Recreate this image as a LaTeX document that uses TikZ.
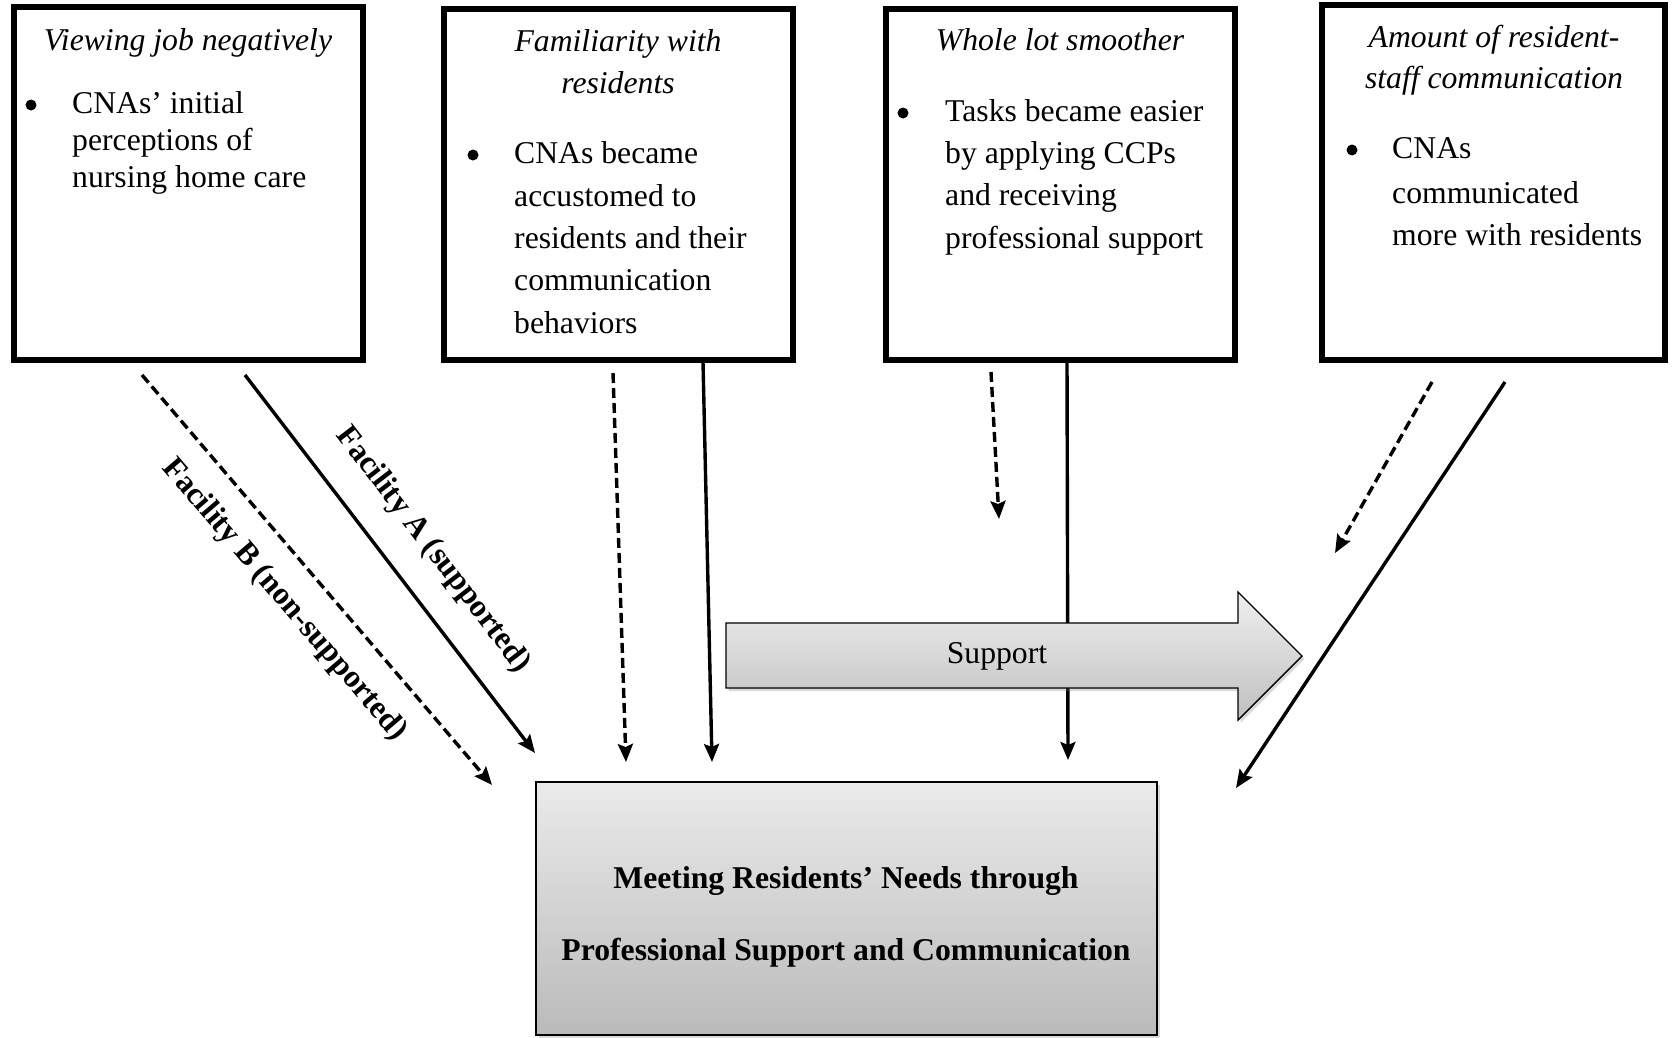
\documentclass[tikz,border=0pt]{standalone}
\usepackage{fontspec}
\setmainfont{Liberation Serif}
\usetikzlibrary{arrows.meta,shadows}
\begin{document}
\begin{tikzpicture}[x=1pt,y=-1pt,
  box/.style={draw,line width=6pt,inner sep=0pt},
  ttl/.style={font=\fontsize{31.7}{38}\selectfont\itshape,inner sep=0pt,anchor=base},
  txt/.style={font=\fontsize{31.7}{38}\selectfont,inner sep=0pt,anchor=base west},
  bul/.style={circle,fill=black,inner sep=0pt,minimum size=11pt},
  lbl/.style={font=\fontsize{31.7}{38}\selectfont\bfseries,inner sep=0pt},
  mtxt/.style={font=\fontsize{31.7}{38}\selectfont\bfseries,inner sep=0pt,anchor=base},
  sol/.style={line width=3.4pt,-{Stealth[length=18pt,width=15pt,inset=3pt]}},
  dsh/.style={sol,dash pattern=on 10pt off 5pt},
]
\useasboundingbox (0,0) rectangle (1672,1037);

% ---- top boxes ----
\node[box,minimum width=349pt,minimum height=353pt] (box1) at (188.5,183.5) {};
\node[box,minimum width=349pt,minimum height=351pt] (box2) at (618.5,184.5) {};
\node[box,minimum width=349pt,minimum height=351pt] (box3) at (1060.5,184.5) {};
\node[box,minimum width=343pt,minimum height=355pt] (box4) at (1493.5,182.5) {};

% box 1 text
\node[ttl] (t1) at (188,50) {Viewing job negatively};
\node[bul] (u1) at (31,105) {};
\node[txt] (l1a) at (72,113) {CNAs’ initial};
\node[txt] (l1b) at (72,150) {perceptions of};
\node[txt] (l1c) at (72,187) {nursing home care};

% box 2 text
\node[ttl] (t2a) at (618,51) {Familiarity with};
\node[ttl] (t2b) at (618,93) {residents};
\node[bul] (u2) at (473,155) {};
\node[txt] (l2a) at (514,163) {CNAs became};
\node[txt] (l2b) at (514,206) {accustomed to};
\node[txt] (l2c) at (514,248) {residents and their};
\node[txt] (l2d) at (514,290) {communication};
\node[txt] (l2e) at (514,333) {behaviors};

% box 3 text
\node[ttl] (t3) at (1060,50) {Whole lot smoother};
\node[bul] (u3) at (903,113) {};
\node[txt] (l3a) at (945,121) {Tasks became easier};
\node[txt] (l3b) at (945,163) {by applying CCPs};
\node[txt] (l3c) at (945,205) {and receiving};
\node[txt] (l3d) at (945,248) {professional support};

% box 4 text
\node[ttl] (t4a) at (1494,47) {Amount of resident-};
\node[ttl] (t4b) at (1494,88) {staff communication};
\node[bul] (u4) at (1352,150) {};
\node[txt] (l4a) at (1392,158) {CNAs};
\node[txt] (l4b) at (1392,203) {communicated};
\node[txt] (l4c) at (1392,245) {more with residents};

% ---- main box ----
\node[draw,line width=1.8pt,minimum width=621pt,minimum height=253pt,
      top color=black!8,bottom color=black!27,
      drop shadow={shadow xshift=2.5pt,shadow yshift=-2.5pt,opacity=0.3}] (main) at (846.5,908.5) {};
\node[mtxt] (m1) at (846,888) {Meeting Residents’ Needs through};
\node[mtxt] (m2) at (846,960) {Professional Support and Communication};

% ---- connector end points ----
\coordinate (a1s) at (142,375); \coordinate (a1e) at (492,785);
\coordinate (b1s) at (245,375); \coordinate (b1e) at (535,753);
\coordinate (a2s) at (613,373); \coordinate (a2e) at (626,762);
\coordinate (b2s) at (703,362); \coordinate (b2e) at (712,762);
\coordinate (a3s) at (991,372); \coordinate (a3e) at (999,519);
\coordinate (b3s) at (1067,362); \coordinate (b3e) at (1068,760);
\coordinate (a4s) at (1432,382); \coordinate (a4e) at (1335,553);
\coordinate (b4s) at (1505,382); \coordinate (b4e) at (1236,788);

\draw[dsh] (a1s) -- (a1e);
\draw[sol] (b1s) -- (b1e);
\draw[dsh] (a2s) -- (a2e);
\draw[sol] (b2s) -- (b2e);
\draw[dsh] (a3s) -- (a3e);
\draw[sol] (b3s) -- (b3e);
\draw[dsh] (a4s) -- (a4e);
\draw[sol] (b4s) -- (b4e);

\node[lbl,rotate=-52.5] (labA) at (433,550) {Facility A (supported)};
\node[lbl,rotate=-49.5] (labB) at (284,600) {Facility B (non-supported)};

% ---- support arrow ----
\draw[line width=1.4pt,line join=miter,top color=black!6,bottom color=black!25,
      drop shadow={shadow xshift=2.5pt,shadow yshift=-3pt,opacity=0.3}]
  (726,623) -- (1238,623) -- (1238,592) -- (1302,656) -- (1238,720) -- (1238,688) -- (726,688) -- cycle;
\node[font=\fontsize{31.7}{38}\selectfont,inner sep=0pt,anchor=base] (sup) at (997,663) {Support};
\end{tikzpicture}
\end{document}
